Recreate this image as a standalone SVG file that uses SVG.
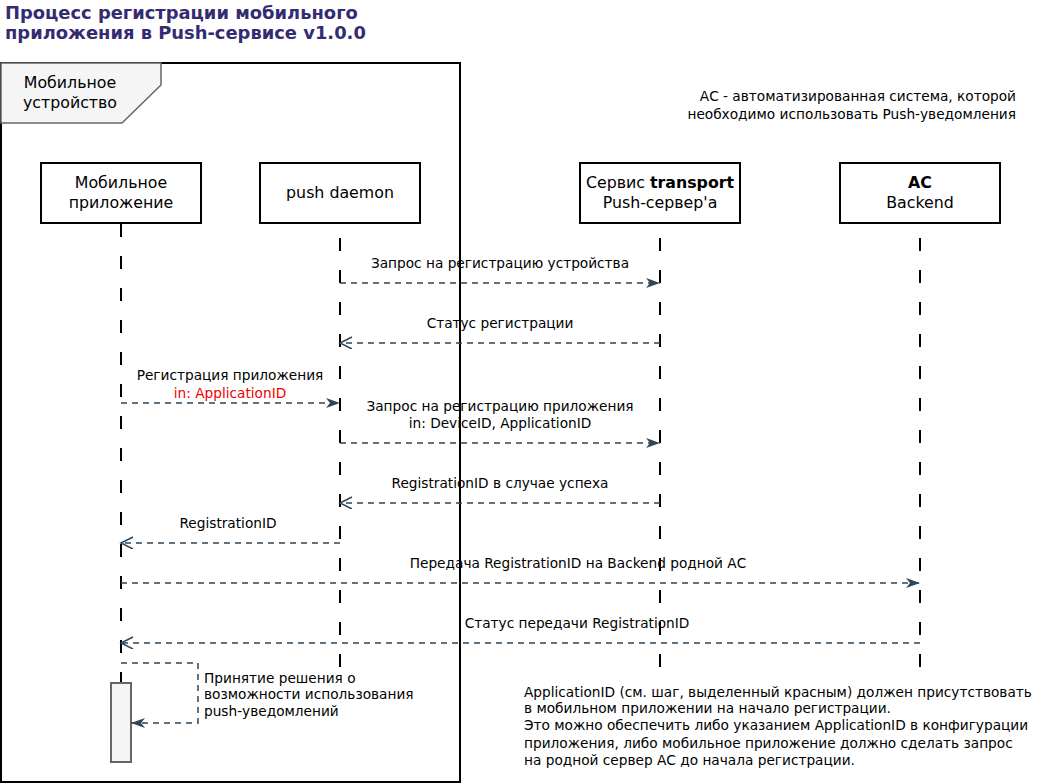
<svg xmlns="http://www.w3.org/2000/svg" width="1042" height="784" viewBox="0 0 1042 784">
<style>
text{font-family:"DejaVu Sans","Verdana",sans-serif;fill:#000}
.title{font-size:17.9px;font-weight:bold;fill:#332C73}
.box{fill:#fff;stroke:#000;stroke-width:2}
.bl{font-size:15.8px;text-anchor:middle}
.life{stroke:#000;stroke-width:2;stroke-dasharray:13 19;fill:none}
.msg{stroke:#2E4658;stroke-width:1.5;stroke-dasharray:6 5;fill:none}
.ml{font-size:13.7px;text-anchor:middle}
.note{font-size:13.7px}
</style>
<defs>
<marker id="fa" markerUnits="userSpaceOnUse" markerWidth="16" markerHeight="12" refX="14" refY="5" orient="auto">
<path d="M0,0 L14,5 L0,10 L4,5 Z" fill="#2E4658"/>
</marker>
<marker id="oa" markerUnits="userSpaceOnUse" markerWidth="16" markerHeight="14" refX="13" refY="6" orient="auto">
<path d="M1,0 L13,6 L1,12" fill="none" stroke="#2E4658" stroke-width="1.5"/>
</marker>
</defs>
<text class="title" x="5" y="19">Процесс регистрации мобильного</text>
<text class="title" x="5" y="39">приложения в Push-сервисе v1.0.0</text>

<g id="frame">
<rect x="1" y="63" width="459" height="719" fill="none" stroke="#000" stroke-width="2"/>
<path d="M1,63 H161 V85 L122,123 H1 Z" fill="#f5f5f5" stroke="#666" stroke-width="1.5"/>
<text class="bl" x="70" y="88">Мобильное</text>
<text class="bl" x="70" y="108">устройство</text>
</g>

<g id="lifelines">
<line class="life" x1="121" y1="224" x2="121" y2="683"/>
<line class="life" x1="340" y1="238" x2="340" y2="683"/>
<line class="life" x1="660" y1="238" x2="660" y2="683"/>
<line class="life" x1="920" y1="238" x2="920" y2="683"/>
</g>

<g id="mobile-app">
<rect class="box" x="41" y="163" width="160" height="60"/>
<text class="bl" x="121" y="188">Мобильное</text>
<text class="bl" x="121" y="208">приложение</text>
</g>
<g id="push-daemon">
<rect class="box" x="260" y="163" width="160" height="60"/>
<text class="bl" x="340" y="198">push daemon</text>
</g>
<g id="transport">
<rect class="box" x="580" y="163" width="160" height="60"/>
<text class="bl" x="660" y="188">Сервис <tspan font-weight="bold">transport</tspan></text>
<text class="bl" x="660" y="208">Push-сервер'а</text>
</g>
<g id="backend">
<rect class="box" x="840" y="163" width="160" height="60"/>
<text class="bl" x="920" y="188" font-weight="bold">АС</text>
<text class="bl" x="920" y="208">Backend</text>
</g>
<g id="activation">
<rect x="111" y="683" width="20" height="79" fill="#f5f5f5" stroke="#666" stroke-width="2"/>
</g>

<g id="connectors">
<line class="msg" x1="340" y1="283" x2="660" y2="283" marker-end="url(#fa)"/>
<line class="msg" x1="660" y1="343" x2="340" y2="343" marker-end="url(#oa)"/>
<line class="msg" x1="121" y1="403" x2="340" y2="403" marker-end="url(#fa)"/>
<line class="msg" x1="340" y1="443" x2="660" y2="443" marker-end="url(#fa)"/>
<line class="msg" x1="660" y1="503" x2="340" y2="503" marker-end="url(#oa)"/>
<line class="msg" x1="340" y1="543" x2="121" y2="543" marker-end="url(#oa)"/>
<line class="msg" x1="121" y1="583" x2="920" y2="583" marker-end="url(#fa)"/>
<line class="msg" x1="920" y1="643" x2="121" y2="643" marker-end="url(#oa)"/>
<path class="msg" d="M121,663 H198 V723 H131" marker-end="url(#fa)"/>
</g>

<g id="labels">
<text class="ml" x="500" y="268">Запрос на регистрацию устройства</text>
<text class="ml" x="500" y="328">Статус регистрации</text>
<text class="ml" x="230" y="380">Регистрация приложения</text>
<text class="ml" x="230" y="398" style="fill:#e00">in: ApplicationID</text>
<text class="ml" x="500" y="411">Запрос на регистрацию приложения</text>
<text class="ml" x="500" y="428">in: DeviceID, ApplicationID</text>
<text class="ml" x="500" y="488">RegistrationID в случае успеха</text>
<text class="ml" x="228" y="528">RegistrationID</text>
<text class="ml" x="578" y="568">Передача RegistrationID на Backend родной АС</text>
<text class="ml" x="577" y="628">Статус передачи RegistrationID</text>
<text class="note" x="204" y="683">Принятие решения о</text>
<text class="note" x="204" y="699">возможности использования</text>
<text class="note" x="204" y="716">push-уведомлений</text>
</g>

<g id="notes">
<text class="note" x="1016" y="101" text-anchor="end">АС - автоматизированная система, которой</text>
<text class="note" x="1016" y="119" text-anchor="end">необходимо использовать Push-уведомления</text>
<text class="note" x="524" y="697">ApplicationID (см. шаг, выделенный красным) должен присутствовать</text>
<text class="note" x="524" y="713">в мобильном приложении на начало регистрации.</text>
<text class="note" x="524" y="730">Это можно обеспечить либо указанием ApplicationID в конфигурации</text>
<text class="note" x="524" y="748">приложения, либо мобильное приложение должно сделать запрос</text>
<text class="note" x="524" y="765">на родной сервер АС до начала регистрации.</text>
</g>
</svg>
